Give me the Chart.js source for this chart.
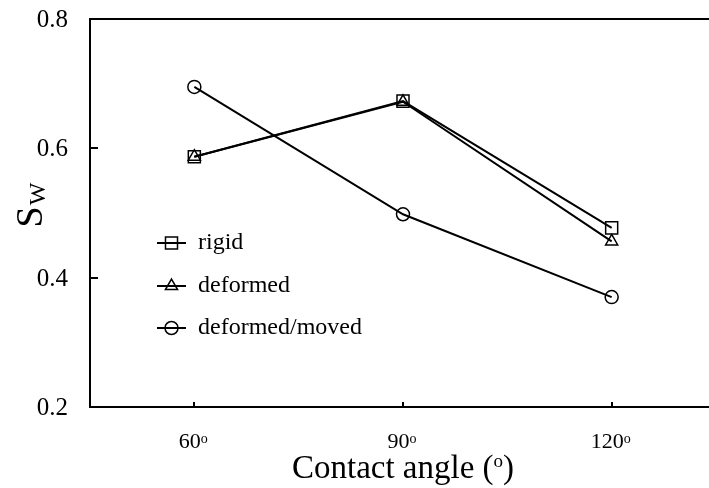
<!DOCTYPE html>
<html>
<head>
<meta charset="utf-8">
<script src="https://cdn.jsdelivr.net/npm/chart.js@4/dist/chart.umd.min.js"></script>
<style>
  html, body { margin: 0; padding: 0; background: #fff; overflow: hidden; width: 709px; height: 488px; }
  #wrap { width: 709px; height: 488px; overflow: hidden; position: relative; }
  #inner { width: 716px; height: 488px; position: absolute; left: 0; top: 0; }
  canvas { display: block; }
</style>
</head>
<body>
<div id="wrap"><div id="inner"><canvas id="c" width="716" height="488" style="width:716px;height:488px"></canvas></div></div>
<script>
// Contact angle categories (degrees)
const angles = ['60', '90', '120'];
// S_W per case
const rigid = [0.587, 0.673, 0.477];
const deformed = [0.587, 0.672, 0.456];
const deformedMoved = [0.695, 0.498, 0.370];
const seriesNames = ['rigid', 'deformed', 'deformed/moved'];
const yTicks = [0.2, 0.4, 0.6, 0.8];
const xTitleText = 'Contact angle (';
const yTitleMain = 'S';
const yTitleSub = 'W';

const SERIF = '"Liberation Serif", "Times New Roman", serif';
const BLACK = '#000';

const markerStyles = [
  { pointStyle: 'rect', radius: 8.5 },
  { pointStyle: 'triangle', radius: 7 },
  { pointStyle: 'circle', radius: 6.5 }
];

function makeSet(label, data, m) {
  return {
    label: label,
    data: data,
    borderColor: BLACK,
    borderWidth: 2,
    backgroundColor: 'rgba(0,0,0,0)',
    pointStyle: m.pointStyle,
    pointRadius: m.radius,
    pointBorderWidth: 1.5,
    pointBorderColor: BLACK,
    pointBackgroundColor: 'rgba(0,0,0,0)',
    tension: 0,
    fill: false
  };
}

// draw a run of text pieces (with different fonts / vertical offsets) in sequence
function drawRun(ctx, parts, x, y, align) {
  let total = 0;
  parts.forEach(p => { ctx.font = p.font; p.w = ctx.measureText(p.text).width; total += p.w + (p.gap || 0); });
  let cx = x;
  if (align === 'center') cx = x - total / 2;
  else if (align === 'right') cx = x - total;
  ctx.textAlign = 'left';
  ctx.textBaseline = 'alphabetic';
  parts.forEach(p => {
    ctx.font = p.font;
    ctx.fillText(p.text, cx + (p.gap || 0), y + (p.dy || 0));
    cx += p.w + (p.gap || 0);
  });
  return total;
}

const decorPlugin = {
  id: 'decor',
  afterDraw(chart) {
    const ctx = chart.ctx;
    const area = chart.chartArea;
    const xs = chart.scales.x;
    const ys = chart.scales.y;
    ctx.save();
    ctx.fillStyle = BLACK;
    ctx.strokeStyle = BLACK;

    // top frame line
    ctx.lineWidth = 2;
    ctx.beginPath();
    ctx.moveTo(area.left - 1, area.top);
    ctx.lineTo(chart.width, area.top);
    ctx.stroke();

    // inward tick marks
    ctx.lineWidth = 2;
    yTicks.forEach(v => {
      const py = Math.round(ys.getPixelForValue(v));
      ctx.beginPath();
      ctx.moveTo(area.left, py);
      ctx.lineTo(area.left + 8, py);
      ctx.stroke();
    });
    angles.forEach((a, i) => {
      const px = Math.round(xs.getPixelForValue(i));
      ctx.beginPath();
      ctx.moveTo(px, area.bottom);
      ctx.lineTo(px, area.bottom - 5);
      ctx.stroke();
    });

    // y tick labels
    ctx.font = '25px ' + SERIF;
    ctx.textAlign = 'right';
    ctx.textBaseline = 'alphabetic';
    yTicks.forEach(v => {
      const py = ys.getPixelForValue(v);
      ctx.fillText(v.toFixed(1), area.left - 22, py + 8);
    });

    // x tick labels with superscript degree mark
    angles.forEach((a, i) => {
      const px = xs.getPixelForValue(i);
      drawRun(ctx, [
        { text: a, font: '22px ' + SERIF },
        { text: 'o', font: '14px ' + SERIF, dy: -5 }
      ], px - 1, area.bottom + 41, 'center');
    });

    // x axis title
    drawRun(ctx, [
      { text: xTitleText, font: '33px ' + SERIF },
      { text: 'o', font: '19px ' + SERIF, dy: -11 },
      { text: ')', font: '33px ' + SERIF }
    ], (area.left + area.right) / 2, area.bottom + 71, 'center');

    // y axis title, rotated
    ctx.save();
    ctx.translate(42, 205);
    ctx.rotate(-Math.PI / 2);
    drawRun(ctx, [
      { text: yTitleMain, font: '38px ' + SERIF },
      { text: yTitleSub, font: '24px ' + SERIF, dy: 3, gap: 1 }
    ], 0, 0, 'center');
    ctx.restore();

    // legend inside the plot
    const legendYs = [243, 286, 328];
    chart.data.datasets.forEach((ds, i) => {
      const ly = legendYs[i];
      ctx.lineWidth = 2;
      ctx.beginPath();
      ctx.moveTo(157, ly);
      ctx.lineTo(186, ly);
      ctx.stroke();
      ctx.lineWidth = 1.5;
      ctx.fillStyle = 'rgba(0,0,0,0)';
      if (Chart.helpers && Chart.helpers.drawPoint) {
        Chart.helpers.drawPoint(ctx, { pointStyle: ds.pointStyle, radius: ds.pointRadius, borderWidth: 1.5, rotation: 0 }, 171.5, ly);
      }
      ctx.fillStyle = BLACK;
      ctx.font = '24px ' + SERIF;
      ctx.textAlign = 'left';
      ctx.textBaseline = 'alphabetic';
      ctx.fillText(seriesNames[i], 198, ly + 6);
    });

    ctx.restore();
  }
};

new Chart(document.getElementById('c'), {
  type: 'line',
  data: {
    labels: angles,
    datasets: [
      makeSet(seriesNames[0], rigid, markerStyles[0]),
      makeSet(seriesNames[1], deformed, markerStyles[1]),
      makeSet(seriesNames[2], deformedMoved, markerStyles[2])
    ]
  },
  options: {
    responsive: false,
    animation: false,
    devicePixelRatio: 1,
    layout: { autoPadding: false, padding: { left: 90, top: 19, right: 0, bottom: 81 } },
    plugins: { legend: { display: false }, tooltip: { enabled: false } },
    scales: {
      x: {
        type: 'category',
        offset: true,
        grid: { display: false, drawTicks: false },
        ticks: { display: false },
        border: { display: true, color: BLACK, width: 2 }
      },
      y: {
        min: 0.2,
        max: 0.8,
        grid: { display: false, drawTicks: false },
        ticks: { display: false },
        border: { display: true, color: BLACK, width: 2 }
      }
    }
  },
  plugins: [decorPlugin]
});
</script>
</body>
</html>
